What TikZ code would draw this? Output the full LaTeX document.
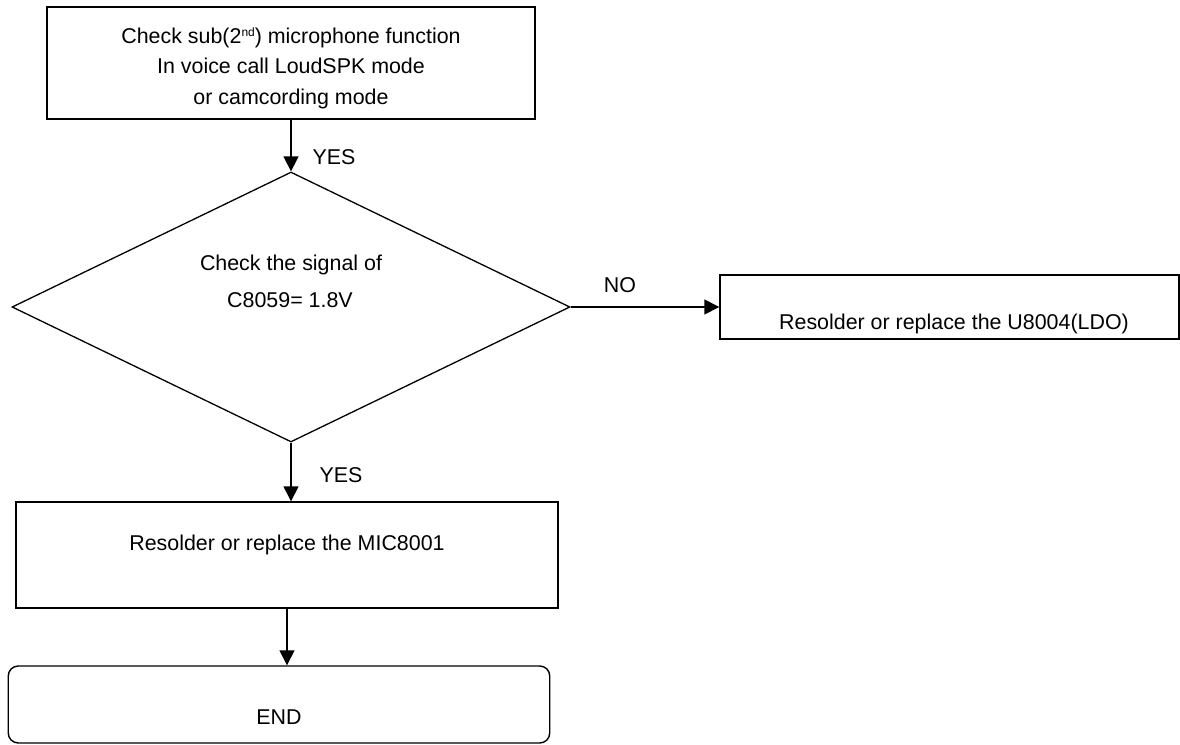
\documentclass[tikz,border=0pt]{standalone}
\usepackage{fontspec}
\setmainfont{Liberation Sans}
\usetikzlibrary{shapes.geometric,arrows.meta}
\tikzset{
  boxshape/.style={draw, line width=1.4pt, rectangle, inner sep=0pt},
  txt/.style={font=\fontsize{21.4}{25}\selectfont, inner sep=0pt, anchor=base},
  arr/.style={-{Triangle[length=15pt,width=15pt]}, line width=1.4pt},
}
\begin{document}
\begin{tikzpicture}[x=1pt,y=-1pt]
\useasboundingbox (0,0) rectangle (1180,744);
% boxes
\node[boxshape, minimum width=488pt, minimum height=112pt] (top) at (291,63) {};
\node[draw, diamond, line width=1.3pt, minimum width=558pt, minimum height=270pt, inner sep=0pt] (dia) at (291,307) {};
\node[boxshape, minimum width=459pt, minimum height=64pt] (right) at (949.5,307) {};
\node[boxshape, minimum width=542pt, minimum height=106pt] (mic) at (287,555) {};
\node[boxshape, rounded corners=10pt, minimum width=541.5pt, minimum height=77pt] (end) at (279,704.5) {};
% texts
\node[txt] (t1) at (291,43.7) {Check sub(2\raisebox{7pt}{\fontsize{12}{12}\selectfont nd}) microphone function};
\node[txt] (t2) at (291,73.7) {In voice call LoudSPK mode};
\node[txt] (t3) at (291,104.7) {or camcording mode};
\node[txt] (d1) at (291,270.7) {Check the signal of};
\node[txt] (d2) at (290,307.7) {C8059= 1.8V};
\node[txt] (rt) at (954,329.7) {Resolder or replace the U8004(LDO)};
\node[txt] (mt) at (287,550.7) {Resolder or replace the MIC8001};
\node[txt] (et) at (279,724.7) {END};
\node[txt] (yes1) at (334,164.7) {YES};
\node[txt] (no) at (620,292.7) {NO};
\node[txt] (yes2) at (341,482.7) {YES};
% connectors
\draw[arr] (top.south) -- (dia.north);
\draw[arr] (dia.east) -- (right.west);
\draw[arr] (dia.south) -- (dia.south |- mic.north);
\draw[arr] (mic.south) -- (mic.south |- end.north);
\end{tikzpicture}
\end{document}
